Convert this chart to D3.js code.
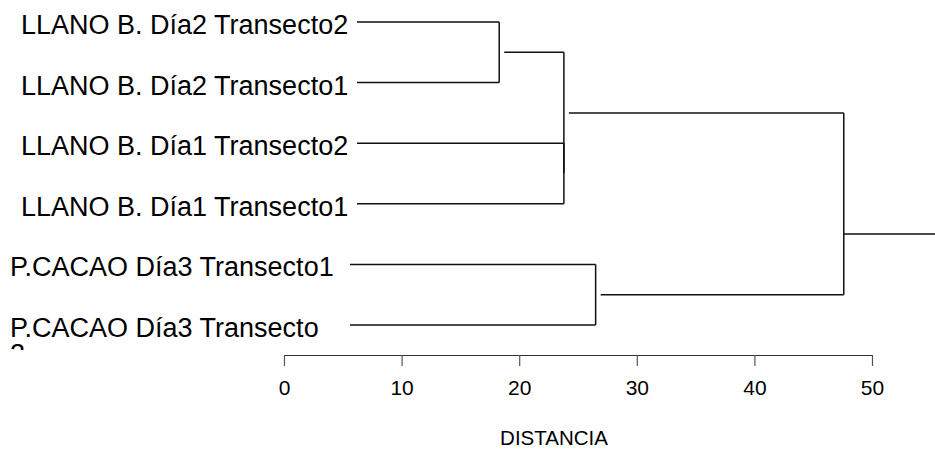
<!DOCTYPE html>
<html>
<head>
<meta charset="utf-8">
<script src="https://cdn.jsdelivr.net/npm/d3@7.9.0/dist/d3.min.js"></script>
<style>
  body { margin: 0; background: #fff; }
  svg { display: block; font-family: "Liberation Sans", Arial, sans-serif; }
</style>
</head>
<body>
<div id="chart"></div>
<script>
// leaf labels, top to bottom
const leaves = [
    "LLANO B. Día2 Transecto2",
    "LLANO B. Día2 Transecto1",
    "LLANO B. Día1 Transecto2",
    "LLANO B. Día1 Transecto1",
    "P.CACAO Día3 Transecto1",
    "P.CACAO Día3 Transecto 2"
];
const site = ["LLANO", "LLANO", "LLANO", "LLANO", "CACAO", "CACAO"];

// merges, hclust style: negative = leaf, positive = earlier merge
const mergeA = [-1, -3, 1, -5, 3];
const mergeB = [-2, -4, 2, -6, 4];
const heights = [18.3, 23.8, 23.8, 26.5, 47.6];
const rootStubPos = 3.5; // where the root stub leaves the last vertical (in leaf units)

const ticks = [0, 10, 20, 30, 40, 50];
const axisTitle = "DISTANCIA";

const width = 935, height = 450;

const svg = d3.select("#chart").append("svg")
    .attr("width", width)
    .attr("height", height);

const x = d3.scaleLinear().domain([0, 50]).range([284, 872]);
const y = d3.scaleLinear().domain([0, 5]).range([22, 325]);
const leafStart = { LLANO: 357, CACAO: 350 };
const labelLeft = { LLANO: 21, CACAO: 10 };

// clip so the wrapped last label is cut like the original
svg.append("clipPath").attr("id", "labclip")
    .append("rect").attr("x", 0).attr("y", 0).attr("width", 400).attr("height", 350);

const labels = svg.append("g").attr("clip-path", "url(#labclip)");
leaves.forEach((name, i) => {
    const t = labels.append("text")
        .attr("x", labelLeft[site[i]])
        .attr("y", y(i) + 12)
        .style("font-size", "27px")
        .attr("fill", "#000");
    if (name.endsWith(" 2") && site[i] === "CACAO") {
        t.append("tspan").text(name.slice(0, -2));
        t.append("tspan").attr("x", labelLeft[site[i]]).attr("dy", 26).text("2");
    } else {
        t.text(name);
    }
});

// position and height of every node (leaves are at height 0)
const nodes = [];
function node(id) {
    return id < 0 ? { pos: -id - 1, h: 0, leaf: -id - 1 } : nodes[id - 1];
}

const g = svg.append("g")
    .attr("stroke", "#111")
    .attr("stroke-width", 1.5)
    .attr("fill", "none");

function hline(x1, x2, yy) {
    g.append("line").attr("x1", x1).attr("x2", x2).attr("y1", yy).attr("y2", yy);
}
function vline(xx, y1, y2) {
    g.append("line").attr("x1", xx).attr("x2", xx).attr("y1", y1).attr("y2", y2);
}

heights.forEach((h, k) => {
    const a = node(mergeA[k]), b = node(mergeB[k]);
    const xm = x(h);
    [a, b].forEach(c => {
        if (c.leaf !== undefined) {
            hline(leafStart[site[c.leaf]], xm, y(c.pos));
        } else if (x(c.h) + 5 < xm) {
            hline(x(c.h) + 5, xm, y(c.pos));
        }
    });
    vline(xm, y(a.pos), y(b.pos));
    nodes.push({ pos: (a.pos + b.pos) / 2, h: h });
});

// root stub
const root = nodes[nodes.length - 1];
hline(x(root.h), width, y(rootStubPos));

// axis
const axis = svg.append("g")
    .attr("transform", "translate(0,355)")
    .call(d3.axisBottom(x).tickValues(ticks).tickSize(11).tickSizeOuter(0).tickPadding(14));
axis.select(".domain").attr("stroke", "#333").attr("stroke-width", 1.2);
axis.selectAll(".tick line").attr("stroke", "#555").attr("stroke-width", 1.2);
axis.selectAll(".tick text")
    .attr("fill", "#000")
    .style("font-size", "21px")
    .style("font-family", "'Liberation Sans', Arial, sans-serif");

svg.append("text")
    .attr("x", 554)
    .attr("y", 445)
    .attr("text-anchor", "middle")
    .style("font-size", "20.5px")
    .attr("fill", "#000")
    .text(axisTitle);
</script>
</body>
</html>
